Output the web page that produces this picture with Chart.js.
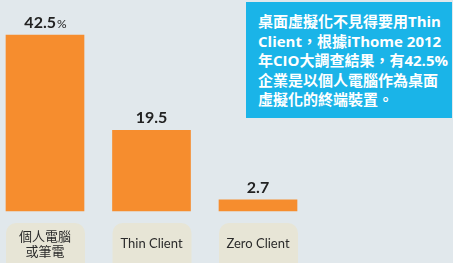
<!DOCTYPE html>
<html>
<head>
<meta charset="utf-8">
<script src="https://cdn.jsdelivr.net/npm/chart.js@4"></script>
<style>
  html, body { margin: 0; padding: 0; background: #e1e8ec; }
  #wrap { position: relative; width: 453px; height: 263px; overflow: hidden; }
  #note {
    position: absolute; left: 246px; top: 2px; width: 206px; height: 116px;
    box-sizing: border-box; padding: 10px 0 0 12px;
    background: #1ab4e8; color: #fff;
    font: bold 15px "Open Sans", "Noto Sans CJK TC", sans-serif;
    line-height: 19.5px; white-space: nowrap;
  }
</style>
</head>
<body>
<div id="wrap">
  <canvas id="chart" width="453" height="263"></canvas>
  <div id="note">桌面虛擬化不見得要用Thin<br>Client，根據iThome 2012<br>年CIO大調查結果，有42.5%<br>企業是以個人電腦作為桌面<br>虛擬化的終端裝置。</div>
</div>
<script>
const categories = [["個人電腦", "或筆電"], ["Thin Client"], ["Zero Client"]];
const shares = [42.5, 19.5, 2.7];
const valueLabels = ["42.5", "19.5", "2.7"];

const FONT = 'Lato, "Noto Sans CJK TC", sans-serif';

const labelPlugin = {
  id: 'barLabels',
  afterDatasetsDraw(chart) {
    const ctx = chart.ctx;
    const meta = chart.getDatasetMeta(0);
    const base = chart.scales.y.getPixelForValue(0);
    meta.data.forEach((bar, i) => {
      const half = bar.width / 2;
      // category box
      ctx.save();
      ctx.fillStyle = '#e7e5d6';
      ctx.beginPath();
      ctx.roundRect(bar.x - half, base + 12, bar.width + 1, 60, 10);
      ctx.fill();
      ctx.fillStyle = '#2b2b2b';
      ctx.font = '13px ' + FONT;
      ctx.textAlign = 'center';
      ctx.textBaseline = 'middle';
      const lines = categories[i];
      const mid = base + 33;
      lines.forEach((t, k) => {
        ctx.fillText(t, bar.x, mid + (k - (lines.length - 1) / 2) * 15);
      });
      // value label
      ctx.fillStyle = '#222';
      ctx.textBaseline = 'alphabetic';
      ctx.font = 'bold 16px ' + FONT;
      const txt = valueLabels[i];
      const y = bar.y - 7;
      if (i === 0) {
        const w1 = ctx.measureText(txt).width;
        ctx.font = '12px ' + FONT;
        const w2 = ctx.measureText('%').width;
        const start = bar.x - (w1 + w2) / 2;
        ctx.textAlign = 'left';
        ctx.font = 'bold 16px ' + FONT;
        ctx.fillText(txt, start, y);
        ctx.font = '12px ' + FONT;
        ctx.fillText('%', start + w1 + 1, y);
      } else {
        ctx.fillText(txt, bar.x, y);
      }
      ctx.restore();
    });
  }
};

new Chart(document.getElementById('chart'), {
  type: 'bar',
  data: {
    labels: categories.map(c => c.join('')),
    datasets: [{
      data: shares,
      backgroundColor: '#f68d2e',
      barThickness: 78,
      clip: false
    }]
  },
  options: {
    responsive: false,
    animation: false,
    layout: { padding: { left: 45, right: 195, top: 4, bottom: 52 } },
    plugins: { legend: { display: false }, tooltip: { enabled: false } },
    scales: {
      x: { display: false, offset: false },
      y: { display: false, min: 0, max: 50 }
    }
  },
  plugins: [labelPlugin]
});
</script>
</body>
</html>
